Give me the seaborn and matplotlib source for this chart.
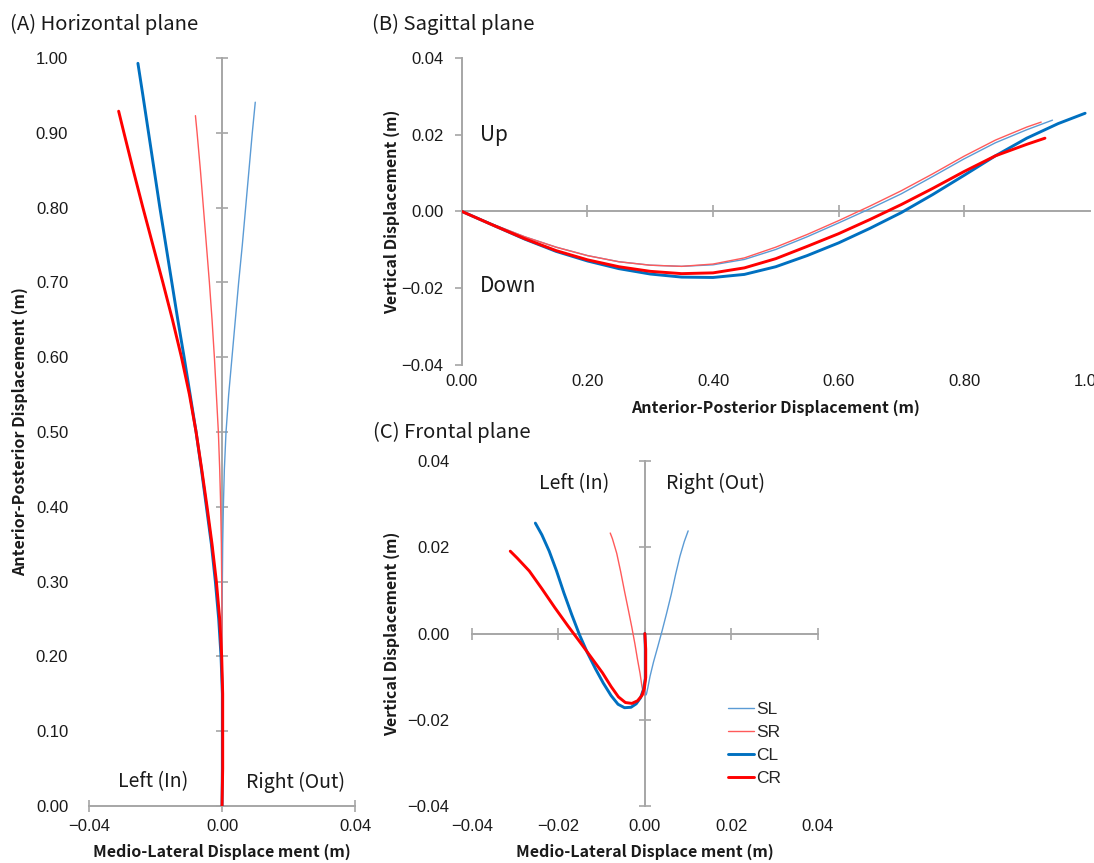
import matplotlib
matplotlib.use("Agg")
import matplotlib.pyplot as plt
from matplotlib.ticker import FuncFormatter, MultipleLocator
import seaborn as sns
import pandas as pd

# ---- trajectories: anterior-posterior (AP), medio-lateral (ML), vertical (V), metres ----
series_names = ["SL", "SR", "CL", "CR"]

ap_sl = [0.00, 0.05, 0.10, 0.15, 0.20, 0.25, 0.30, 0.35, 0.40, 0.45, 0.50,
         0.55, 0.60, 0.65, 0.70, 0.75, 0.80, 0.85, 0.90, 0.941]
ml_sl = [0.0000, 0.0000, 0.0000, 0.0000, 0.0000, 0.0000, 0.0001, 0.0002, 0.0004, 0.0007, 0.0012,
         0.0020, 0.0030, 0.0040, 0.0050, 0.0061, 0.0071, 0.0081, 0.0091, 0.0100]
v_sl = [0.0000, -0.0034, -0.0066, -0.0093, -0.0115, -0.0131, -0.0140, -0.0143, -0.0139, -0.0125, -0.0099,
        -0.0066, -0.0030, 0.0007, 0.0046, 0.0091, 0.0137, 0.0179, 0.0213, 0.0238]

ap_sr = [0.00, 0.05, 0.10, 0.15, 0.20, 0.25, 0.30, 0.35, 0.40, 0.45, 0.50,
         0.55, 0.60, 0.65, 0.70, 0.75, 0.80, 0.85, 0.90, 0.923]
ml_sr = [0.0000, 0.0000, 0.0000, 0.0000, 0.0000, 0.0000, -0.0001, -0.0002, -0.0004, -0.0007, -0.0011,
         -0.0017, -0.0023, -0.0030, -0.0038, -0.0047, -0.0056, -0.0065, -0.0075, -0.0080]
v_sr = [0.0000, -0.0034, -0.0066, -0.0093, -0.0115, -0.0131, -0.0140, -0.0143, -0.0137, -0.0121, -0.0093,
        -0.0060, -0.0024, 0.0014, 0.0054, 0.0098, 0.0144, 0.0186, 0.0220, 0.0233]

ap_cl = [0.00, 0.05, 0.10, 0.15, 0.20, 0.25, 0.30, 0.35, 0.40, 0.45, 0.50,
         0.55, 0.60, 0.65, 0.70, 0.75, 0.80, 0.85, 0.90, 0.95, 0.993]
ml_cl = [0.0000, 0.0001, 0.0001, 0.0001, -0.0003, -0.0010, -0.0020, -0.0032, -0.0047, -0.0062, -0.0078,
         -0.0096, -0.0114, -0.0133, -0.0151, -0.0169, -0.0187, -0.0204, -0.0221, -0.0238, -0.0253]
v_cl = [0.0000, -0.0036, -0.0072, -0.0104, -0.0129, -0.0149, -0.0163, -0.0171, -0.0172, -0.0164, -0.0144,
        -0.0115, -0.0082, -0.0044, -0.0003, 0.0044, 0.0094, 0.0145, 0.0191, 0.0229, 0.0256]

ap_cr = [0.00, 0.05, 0.10, 0.15, 0.20, 0.25, 0.30, 0.35, 0.40, 0.45, 0.50,
         0.55, 0.60, 0.65, 0.70, 0.75, 0.80, 0.85, 0.90, 0.929]
ml_cr = [0.0000, 0.0002, 0.0002, 0.0002, -0.0001, -0.0007, -0.0017, -0.0030, -0.0045, -0.0061, -0.0078,
         -0.0098, -0.0122, -0.0149, -0.0178, -0.0208, -0.0238, -0.0267, -0.0295, -0.0311]
v_cr = [0.0000, -0.0036, -0.0071, -0.0102, -0.0126, -0.0144, -0.0156, -0.0162, -0.0160, -0.0147, -0.0123,
        -0.0091, -0.0058, -0.0021, 0.0018, 0.0060, 0.0104, 0.0145, 0.0175, 0.0191]

series_colors = {"SL": "#5B9BD5", "SR": "#FF5A5A", "CL": "#0070C0", "CR": "#FF0000"}
series_widths = {"SL": 1.0, "SR": 1.0, "CL": 2.1, "CR": 2.1}

frames = []
for name, ap, ml, v in [("SL", ap_sl, ml_sl, v_sl), ("SR", ap_sr, ml_sr, v_sr),
                        ("CL", ap_cl, ml_cl, v_cl), ("CR", ap_cr, ml_cr, v_cr)]:
    frames.append(pd.DataFrame({"series": name, "AP": ap, "ML": ml, "V": v}))
df = pd.concat(frames, ignore_index=True)

# ---- style ----
sns.set_style("white")
plt.rcParams["font.family"] = ["Liberation Sans", "DejaVu Sans"]
JP = ["Noto Sans CJK JP", "DejaVu Sans"]
AXIS_GRAY = "#A6A6A6"
TEXT = "#1a1a1a"

fig = plt.figure(figsize=(10.94, 8.63), dpi=100)
axA = fig.add_axes([0.0814, 0.0660, 0.2431, 0.8667])
axB = fig.add_axes([0.4223, 0.5771, 0.5736, 0.3557])
axC = fig.add_axes([0.4312, 0.0660, 0.3165, 0.3998])


def fmt2(v, _pos):
    s = f"{v:.2f}"
    if s == "-0.00":
        s = "0.00"
    return s.replace("-", "\u2212")


def draw(ax, xcol, ycol, with_labels=False):
    for name in series_names:
        sub = df[df["series"] == name]
        sns.lineplot(data=sub, x=xcol, y=ycol, sort=False, estimator=None,
                     color=series_colors[name], linewidth=series_widths[name],
                     label=name if with_labels else None, legend=False, ax=ax)


def base_axes(ax, xlim, ylim, xstep, ystep, xpad, ypad):
    ax.set_xlim(*xlim)
    ax.set_ylim(*ylim)
    ax.xaxis.set_major_locator(MultipleLocator(xstep))
    ax.yaxis.set_major_locator(MultipleLocator(ystep))
    ax.xaxis.set_major_formatter(FuncFormatter(fmt2))
    ax.yaxis.set_major_formatter(FuncFormatter(fmt2))
    for sp in ax.spines.values():
        sp.set_visible(False)
    ax.tick_params(axis="x", length=0, pad=xpad, labelsize=12, colors=TEXT)
    ax.tick_params(axis="y", length=0, pad=ypad, labelsize=12, colors=TEXT)
    ax.grid(False)
    ax.set_facecolor("none")


def axis_line(ax, which, loc, ticks, direction="inout", length=8):
    if which == "x":
        sec = ax.secondary_xaxis(loc)
        sec.set_xticks(ticks)
        sec.tick_params(axis="x", direction=direction, length=length, width=1.2,
                        color=AXIS_GRAY, labelbottom=False, labeltop=False)
    else:
        sec = ax.secondary_yaxis(loc)
        sec.set_yticks(ticks)
        sec.tick_params(axis="y", direction=direction, length=length, width=1.2,
                        color=AXIS_GRAY, labelleft=False, labelright=False)
    for sp in sec.spines.values():
        sp.set_color(AXIS_GRAY)
        sp.set_linewidth(1.4)
    return sec


label_kw = dict(fontsize=11.5, fontweight="bold", family=JP, color=TEXT)
note_kw = dict(ha="center", va="center", fontsize=14, family=JP, color=TEXT)

# (A) Horizontal plane: ML vs AP
draw(axA, "ML", "AP")
base_axes(axA, (-0.04, 0.04), (0.0, 1.0), 0.04, 0.1, xpad=9.4, ypad=15)
axis_line(axA, "x", 0.0, [-0.04, 0.0, 0.04])
axis_line(axA, "y", 0.5, [round(0.1 * i, 1) for i in range(11)])
axA.set_xlabel("Medio-Lateral Displace ment (m)", va="center", **label_kw)
axA.xaxis.set_label_coords(0.5, -0.0615)
axA.set_ylabel("Anterior-Posterior Displacement (m)", va="center", **label_kw)
axA.yaxis.set_label_coords(-0.259, 0.5)
axA.text(-0.0208, 0.032, "Left (In)", **note_kw)
axA.text(0.0222, 0.032, "Right (Out)", **note_kw)

# (B) Sagittal plane: AP vs V
draw(axB, "AP", "V")
base_axes(axB, (0.0, 1.0), (-0.04, 0.04), 0.2, 0.02, xpad=6.5, ypad=13.3)
axis_line(axB, "x", 0.5, [0.2, 0.4, 0.6, 0.8])
axis_line(axB, "y", 0.0, [-0.04, -0.02, 0.0, 0.02, 0.04], direction="out", length=5)
axB.set_xlabel("Anterior-Posterior Displacement (m)", va="center", **label_kw)
axB.xaxis.set_label_coords(0.5, -0.140)
axB.set_ylabel("Vertical Displacement (m)", va="center", **label_kw)
axB.yaxis.set_label_coords(-0.1116, 0.5)
axB.text(0.0287, 0.0200, "Up", ha="left", va="center", fontsize=15, family=JP, color=TEXT)
axB.text(0.0287, -0.0195, "Down", ha="left", va="center", fontsize=15, family=JP, color=TEXT)

# (C) Frontal plane: ML vs V
draw(axC, "ML", "V", with_labels=True)
base_axes(axC, (-0.04, 0.04), (-0.04, 0.04), 0.02, 0.02, xpad=9.4, ypad=16)
axis_line(axC, "x", 0.5, [-0.04, -0.02, 0.0, 0.02, 0.04])
axis_line(axC, "y", 0.5, [-0.04, -0.02, 0.0, 0.02, 0.04])
axC.set_xlabel("Medio-Lateral Displace ment (m)", va="center", **label_kw)
axC.xaxis.set_label_coords(0.5, -0.1333)
axC.set_ylabel("Vertical Displacement (m)", va="center", **label_kw)
axC.yaxis.set_label_coords(-0.230, 0.5)
axC.text(-0.0164, 0.0348, "Left (In)", **note_kw)
axC.text(0.0163, 0.0348, "Right (Out)", **note_kw)
axC.legend(loc="upper left", bbox_to_anchor=(0.74, 0.301), frameon=False,
           handlelength=1.5, handletextpad=0.1, labelspacing=0.45, borderpad=0,
           borderaxespad=0, prop={"size": 12.5})

# panel titles
title_kw = dict(ha="left", va="center", fontsize=14.6, family=JP, color=TEXT)
fig.text(10 / 1094, 1 - 24 / 863, "(A) Horizontal plane", **title_kw)
fig.text(372 / 1094, 1 - 24 / 863, "(B) Sagittal plane", **title_kw)
fig.text(373 / 1094, 1 - 432 / 863, "(C) Frontal plane", **title_kw)

fig.savefig("out.png", dpi=100, facecolor="white")
